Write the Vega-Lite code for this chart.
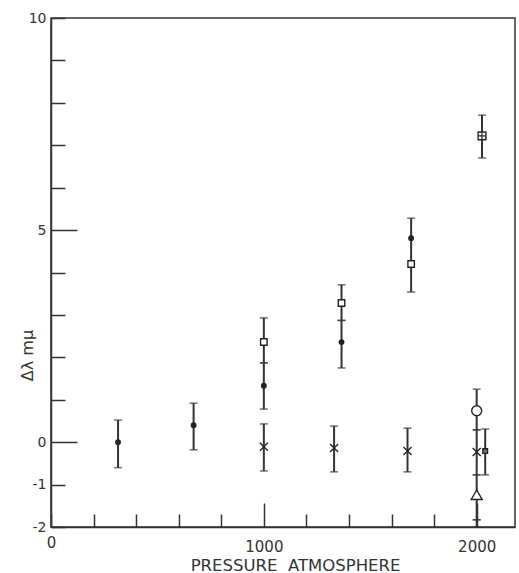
{
  "$schema": "https://vega.github.io/schema/vega-lite/v6.json",
  "width": 464,
  "height": 509,
  "autosize": "none",
  "padding": {"left": 51, "top": 18, "right": 4, "bottom": 46},
  "background": "white",
  "config": {
    "view": {"stroke": "#333", "strokeWidth": 1.5},
    "axis": {
      "domainColor": "#333", "domainWidth": 1.5,
      "tickColor": "#333", "tickWidth": 1.5,
      "grid": false, "labelFlush": false,
      "labelFont": "DejaVu Sans", "labelColor": "#333",
      "titleFont": "DejaVu Sans", "titleColor": "#333", "titleFontWeight": "normal"
    }
  },
  "datasets": {
    "points": [
      {"p": 315, "v": 0, "sym": "dot"},
      {"p": 670, "v": 0.4, "sym": "dot"},
      {"p": 1000, "v": 1.33, "sym": "dot"},
      {"p": 1000, "v": 2.36, "sym": "square"},
      {"p": 1000, "v": -0.11, "sym": "cross"},
      {"p": 1330, "v": -0.14, "sym": "cross"},
      {"p": 1365, "v": 2.36, "sym": "dot"},
      {"p": 1365, "v": 3.28, "sym": "square"},
      {"p": 1675, "v": -0.21, "sym": "cross"},
      {"p": 1692, "v": 4.81, "sym": "dot"},
      {"p": 1692, "v": 4.2, "sym": "square"},
      {"p": 2000, "v": 0.74, "sym": "circle"},
      {"p": 2000, "v": -0.23, "sym": "cross"},
      {"p": 2000, "v": -1.24, "sym": "triangle"},
      {"p": 2025, "v": 7.22, "sym": "boxplus"},
      {"p": 2040, "v": -0.21, "sym": "fsquare"}
    ],
    "bars": [
      {"p": 315, "lo": -0.6, "hi": 0.52},
      {"p": 670, "lo": -0.18, "hi": 0.92},
      {"p": 1000, "lo": 0.78, "hi": 1.87},
      {"p": 1000, "lo": 1.87, "hi": 2.93},
      {"p": 1000, "lo": -0.68, "hi": 0.43},
      {"p": 1330, "lo": -0.7, "hi": 0.38},
      {"p": 1365, "lo": 1.75, "hi": 2.87},
      {"p": 1365, "lo": 2.87, "hi": 3.71},
      {"p": 1675, "lo": -0.7, "hi": 0.33},
      {"p": 1692, "lo": 3.54, "hi": 5.28},
      {"p": 2000, "lo": 0.29, "hi": 1.25},
      {"p": 2000, "lo": -0.77, "hi": 0.29},
      {"p": 2000, "lo": -1.83, "hi": -0.77},
      {"p": 2000, "lo": -2, "hi": -1.83},
      {"p": 2025, "lo": 6.7, "hi": 7.71},
      {"p": 2040, "lo": -0.77, "hi": 0.31}
    ]
  },
  "layer": [
    {
      "data": {"name": "bars"},
      "mark": {"type": "rule", "strokeWidth": 2, "color": "#333"},
      "encoding": {
        "x": {
          "field": "p", "type": "quantitative",
          "scale": {"domain": [0, 2180], "nice": false, "zero": false},
          "axis": {
            "values": [0, 200, 400, 600, 800, 1000, 1200, 1400, 1600, 1800, 2000],
            "tickSize": {"condition": {"test": "datum.value == 1000 || datum.value == 2000", "value": -24}, "value": -13},
            "labelPadding": {"condition": {"test": "datum.value == 1000 || datum.value == 2000", "value": 36}, "value": 21},
            "labelExpr": "datum.value % 1000 == 0 ? datum.label : ''",
            "format": "d",
            "labelFontSize": 15,
            "title": "PRESSURE\u00a0\u00a0ATMOSPHERE",
            "titleFontSize": 16.5,
            "titleX": 244,
            "titleY": 43,
            "titleAlign": "center",
            "titleBaseline": "alphabetic"
          }
        },
        "y": {
          "field": "lo", "type": "quantitative",
          "scale": {"domain": [-2, 10], "nice": false, "zero": false},
          "axis": {
            "values": [-2, -1, 0, 1, 2, 3, 4, 5, 6, 7, 8, 9, 10],
            "tickSize": {"condition": {"test": "datum.value == 0 || datum.value == 5", "value": -26}, "value": -14},
            "labelPadding": {"condition": {"test": "datum.value == 0 || datum.value == 5", "value": 31}, "value": 19},
            "labelExpr": "indexof([-2, -1, 0, 5, 10], datum.value) >= 0 ? replace(datum.label, '−', '-') : ''",
            "labelFontSize": 14,
            "title": "Δλ mμ",
            "titleFontSize": 16,
            "titleX": -24,
            "titleY": 337,
            "titleAngle": -90,
            "titleAlign": "center",
            "titleBaseline": "middle"
          }
        },
        "y2": {"field": "hi"}
      }
    },
    {
      "data": {"name": "bars"},
      "transform": [{"fold": ["lo", "hi"], "as": ["end", "val"]}],
      "mark": {"type": "tick", "orient": "horizontal", "size": 8, "thickness": 1.5, "color": "#333"},
      "encoding": {
        "x": {"field": "p", "type": "quantitative"},
        "y": {"field": "val", "type": "quantitative"}
      }
    },
    {
      "data": {"name": "points"},
      "mark": {"type": "point", "stroke": "#222", "strokeWidth": 1.4, "opacity": 1},
      "encoding": {
        "x": {"field": "p", "type": "quantitative"},
        "y": {"field": "v", "type": "quantitative"},
        "shape": {
          "field": "sym", "type": "nominal", "legend": null,
          "scale": {
            "domain": ["dot", "square", "boxplus", "cross", "circle", "triangle", "fsquare"],
            "range": ["circle", "square", "square", "M-1,-1L1,1M-1,1L1,-1", "circle", "triangle-up", "square"]
          }
        },
        "size": {
          "field": "sym", "type": "nominal", "legend": null,
          "scale": {
            "type": "ordinal",
            "domain": ["dot", "square", "boxplus", "cross", "circle", "triangle", "fsquare"],
            "range": [20, 42, 60, 64, 100, 120, 22]
          }
        },
        "fill": {
          "field": "sym", "type": "nominal", "legend": null,
          "scale": {
            "domain": ["dot", "square", "boxplus", "cross", "circle", "triangle", "fsquare"],
            "range": ["#222", "white", "white", "transparent", "white", "white", "#777"]
          }
        }
      }
    },
    {
      "data": {"name": "points"},
      "transform": [{"filter": "datum.sym == 'boxplus'"}],
      "mark": {"type": "point", "shape": "M-1,0L1,0M0,-1L0,1", "size": 50, "stroke": "#222", "strokeWidth": 1.2, "fill": "transparent", "opacity": 1},
      "encoding": {
        "x": {"field": "p", "type": "quantitative"},
        "y": {"field": "v", "type": "quantitative"}
      }
    }
  ]
}
